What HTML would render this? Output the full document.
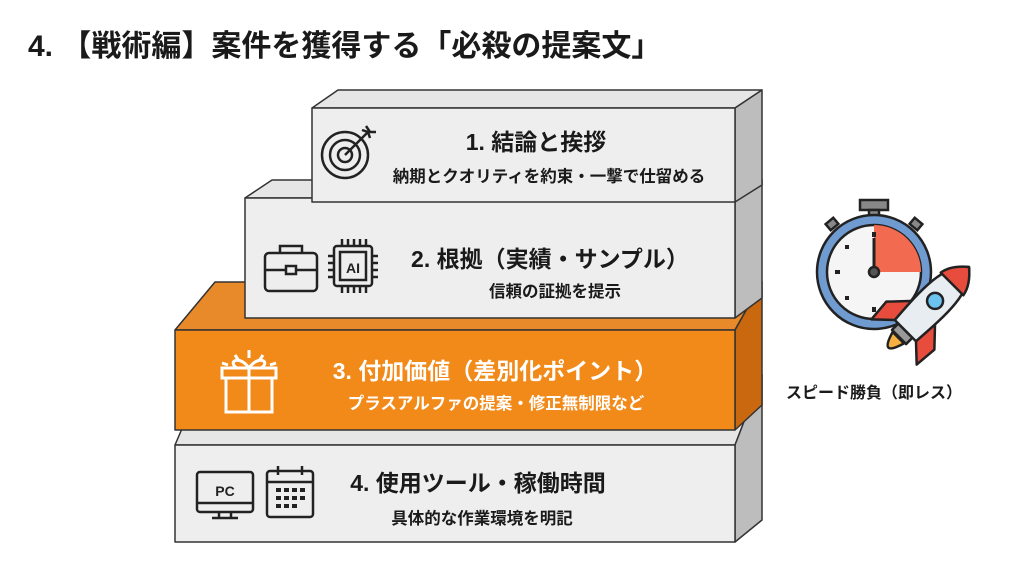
<!DOCTYPE html>
<html><head><meta charset="utf-8"><style>
body{margin:0;width:1024px;height:572px;background:#fff;overflow:hidden;font-family:"Liberation Sans","Noto Sans CJK JP",sans-serif;}
svg text{font-family:"Liberation Sans","Noto Sans CJK JP",sans-serif;font-weight:bold;}
</style></head><body>
<svg width="1024" height="572" viewBox="0 0 1024 572" xmlns="http://www.w3.org/2000/svg">
<text x="28" y="56" font-size="30" fill="#1a1a1a">4. 【戦術編】案件を獲得する「必殺の提案文」</text>
<g stroke="#333" stroke-width="1.5" stroke-linejoin="round">
<polygon points="175,445 205,375 762,375 735,445" fill="#e6e6e6"/>
<polygon points="735,445 762,375 762,520 735,542" fill="#bdbdbd"/>
<rect x="175" y="445" width="560" height="97" fill="#eeeeee"/>
<polygon points="175,330 215,282 762,282 735,330" fill="#e8892a"/>
<polygon points="735,330 762,282 762,405 735,430" fill="#c9680f"/>
<rect x="175" y="330" width="560" height="100" fill="#f28a1a"/>
<polygon points="245,198 272,180 762,180 735,198" fill="#e6e6e6"/>
<polygon points="735,198 762,180 762,298 735,318" fill="#bdbdbd"/>
<rect x="245" y="198" width="490" height="120" fill="#eeeeee"/>
<polygon points="312,108 338,90 762,90 735,108" fill="#e6e6e6"/>
<polygon points="735,108 762,90 762,185 735,202" fill="#bdbdbd"/>
<rect x="312" y="108" width="423" height="94" fill="#eeeeee"/>
</g>
<g fill="#1a1a1a" text-anchor="middle">
<text x="536" y="150" font-size="23">1. 結論と挨拶</text>
<text x="549" y="182" font-size="16.5">納期とクオリティを約束・一撃で仕留める</text>
<text x="550" y="267" font-size="23">2. 根拠（実績・サンプル）</text>
<text x="555" y="297" font-size="16.5">信頼の証拠を提示</text>
<text x="478" y="491" font-size="23">4. 使用ツール・稼働時間</text>
<text x="482" y="524" font-size="16.5">具体的な作業環境を明記</text>
</g>
<g fill="#fff" text-anchor="middle">
<text x="495" y="379" font-size="23">3. 付加価値（差別化ポイント）</text>
<text x="496" y="409" font-size="16.5">プラスアルファの提案・修正無制限など</text>
</g>
<g fill="none" stroke="#222" stroke-width="2.5">
<circle cx="345" cy="155" r="23"/><circle cx="345" cy="155" r="15"/><circle cx="345" cy="155" r="7"/>
<line x1="345" y1="155" x2="368" y2="132"/><path d="M362 130 l6 2 l2 6 M366 126 l4 6 l6 0"/>
</g>
<g fill="none" stroke="#222" stroke-width="2.5">
<rect x="265" y="253" width="52" height="38" rx="4"/><path d="M280 253 v-7 h22 v7"/><path d="M265 270 h52"/><rect x="286" y="266" width="10" height="8" fill="#eee"/>
<rect x="334" y="246" width="38" height="40" rx="3"/><rect x="340" y="252" width="26" height="28"/>
<path d="M342 246v-7M348 246v-7M354 246v-7M360 246v-7M366 246v-7M342 286v7M348 286v7M354 286v7M360 286v7M366 286v7M334 256h-6M334 263h-6M334 270h-6M334 277h-6M372 256h6M372 263h6M372 270h6M372 277h6"/>
</g>
<text x="353" y="273" font-size="14" fill="#222" text-anchor="middle" font-weight="normal">AI</text>
<g fill="none" stroke="#fff" stroke-width="3">
<rect x="226" y="378" width="46" height="34"/><rect x="222" y="368" width="54" height="10"/><path d="M249 368v44"/>
<path d="M249 368c-10-14-22-6-12 0M249 368c10-14 22-6 12 0"/>
<path d="M249 350v8M235 355l4 6M263 355l-4 6M222 363l6 2M276 363l-6 2"/>
</g>
<g fill="none" stroke="#222" stroke-width="2.5">
<rect x="197" y="472" width="56" height="40" rx="3"/><path d="M197 503h56M219 512v6h12v-6M212 518h26"/>
<rect x="267" y="471" width="46" height="46" rx="3"/><path d="M267 482h46M278 466v9M302 466v9"/>
</g>
<text x="225" y="496" font-size="14" fill="#222" text-anchor="middle" font-weight="normal">PC</text>
<g fill="#222">
<rect x="276" y="488" width="5" height="4"/><rect x="284" y="488" width="5" height="4"/><rect x="292" y="488" width="5" height="4"/><rect x="300" y="488" width="5" height="4"/>
<rect x="276" y="496" width="5" height="4"/><rect x="284" y="496" width="5" height="4"/><rect x="292" y="496" width="5" height="4"/><rect x="300" y="496" width="5" height="4"/>
<rect x="276" y="504" width="5" height="4"/><rect x="284" y="504" width="5" height="4"/><rect x="292" y="504" width="5" height="4"/>
</g>
<g stroke="#222" stroke-width="2.5">
<rect x="860" y="200" width="28" height="10" fill="#888"/><rect x="869" y="210" width="10" height="8" fill="#888"/>
<rect x="827" y="220" width="10" height="8" fill="#888" transform="rotate(-40 832 224)"/>
<rect x="911" y="220" width="10" height="8" fill="#888" transform="rotate(40 916 224)"/>
<circle cx="874" cy="272" r="57" fill="#6f9bd1"/>
<circle cx="874" cy="272" r="47" fill="#f5f5f5"/>
<path d="M874 272 L874 225 A47 47 0 0 1 921 272 Z" fill="#f26b50" stroke="none"/>
<line x1="874" y1="272" x2="874" y2="238" stroke-width="3"/>
<circle cx="874" cy="272" r="5" fill="#555"/>
</g>
<g fill="#222" stroke="none">
<rect x="872" y="232" width="4" height="5"/><rect x="845" y="245" width="4" height="4"/><rect x="835" y="270" width="5" height="4"/><rect x="845" y="296" width="4" height="4"/><rect x="872" y="307" width="4" height="5"/>
</g>
<g transform="translate(928,308) rotate(45)" stroke="#222" stroke-width="2.5" stroke-linejoin="round">
<path d="M-8 42 Q0 70 8 42 Z" fill="#f5b041"/>
<path d="M-15 5 L-34 25 L-32 48 L-15 32 Z" fill="#e74c3c"/>
<path d="M15 5 L34 25 L32 48 L15 32 Z" fill="#e74c3c"/>
<rect x="-10" y="32" width="20" height="9" fill="#999"/>
<path d="M0 -58 C20 -42 18 -10 15 32 L-15 32 C-18 -10 -20 -42 0 -58 Z" fill="#e8edf2"/>
<path d="M0 -58 C12 -48 15 -40 16 -34 L-16 -34 C-15 -40 -12 -48 0 -58 Z" fill="#e74c3c"/>
<circle cx="0" cy="-10" r="8" fill="#6cc3f0"/>
</g>
<text x="874" y="398" font-size="16" fill="#1a1a1a" text-anchor="middle">スピード勝負（即レス）</text>
</svg>
</body></html>
